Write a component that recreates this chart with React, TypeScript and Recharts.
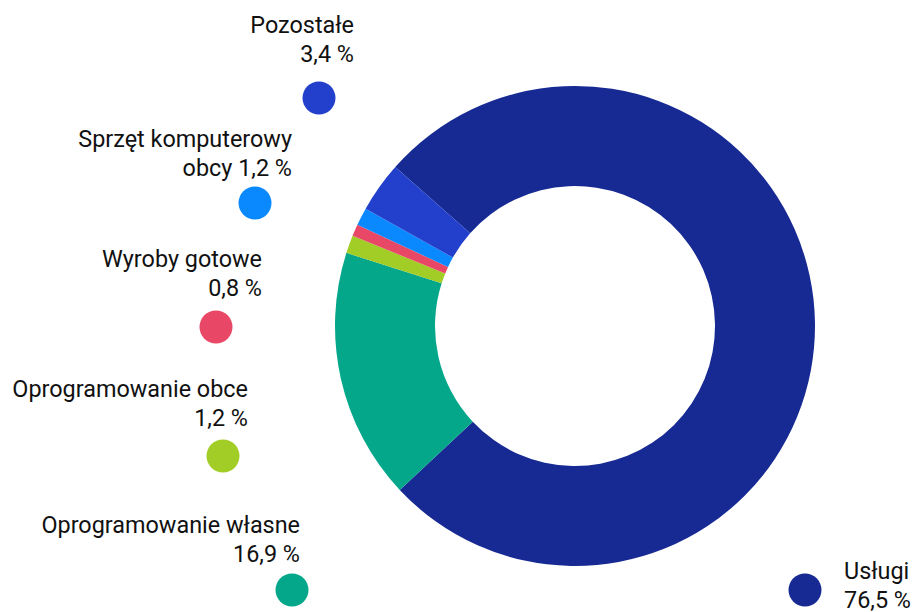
import { PieChart, Pie, Cell } from "recharts";

const categories = [
  "Usługi",
  "Oprogramowanie własne",
  "Oprogramowanie obce",
  "Wyroby gotowe",
  "Sprzęt komputerowy obcy",
  "Pozostałe",
];
const shares = [76.5, 16.9, 1.2, 0.8, 1.2, 3.4];
const labelLines = [
  ["Usługi", "76,5 %"],
  ["Oprogramowanie własne", "16,9 %"],
  ["Oprogramowanie obce", "1,2 %"],
  ["Wyroby gotowe", "0,8 %"],
  ["Sprzęt komputerowy", "obcy 1,2 %"],
  ["Pozostałe", "3,4 %"],
];

const COLORS = ["#172a93", "#05a78b", "#a1cd26", "#e84765", "#0a88fe", "#2340cd"];

// label layout: text anchor x, first baseline y, dot centre, alignment
const LAYOUT = [
  { tx: 844, ty: 579, dx: 805, dy: 590, align: "start" },
  { tx: 300, ty: 533, dx: 292, dy: 590, align: "end" },
  { tx: 248, ty: 397, dx: 223, dy: 456, align: "end" },
  { tx: 262, ty: 267, dx: 216, dy: 327, align: "end" },
  { tx: 292, ty: 147, dx: 255, dy: 203, align: "end" },
  { tx: 354, ty: 33, dx: 319, dy: 98, align: "end" },
];

const data = categories.map((name, i) => ({ name, value: shares[i] }));

export default function App() {
  return (
    <div style={{ position: "absolute", left: 0, top: 0, width: 918, height: 612, background: "#fff" }}>
      <PieChart width={918} height={612} margin={{ top: 0, right: 0, bottom: 0, left: 0 }}>
        <Pie
          data={data}
          dataKey="value"
          nameKey="name"
          cx={575}
          cy={326}
          innerRadius={140}
          outerRadius={240}
          startAngle={138.5}
          endAngle={-221.5}
          stroke="none"
          isAnimationActive={false}
        >
          {data.map((d, i) => (
            <Cell key={d.name} fill={COLORS[i]} />
          ))}
        </Pie>
        <g fontFamily="Roboto, sans-serif" fontSize={23.4} fill="#111">
          {LAYOUT.map((l, i) => (
            <g key={i}>
              <text x={l.tx} y={l.ty} textAnchor={l.align} fill="#111">
                <tspan x={l.tx}>{labelLines[i][0]}</tspan>
                <tspan x={l.tx} dy={29}>{labelLines[i][1]}</tspan>
              </text>
              <circle cx={l.dx} cy={l.dy} r={16.5} fill={COLORS[i]} />
            </g>
          ))}
        </g>
      </PieChart>
    </div>
  );
}
